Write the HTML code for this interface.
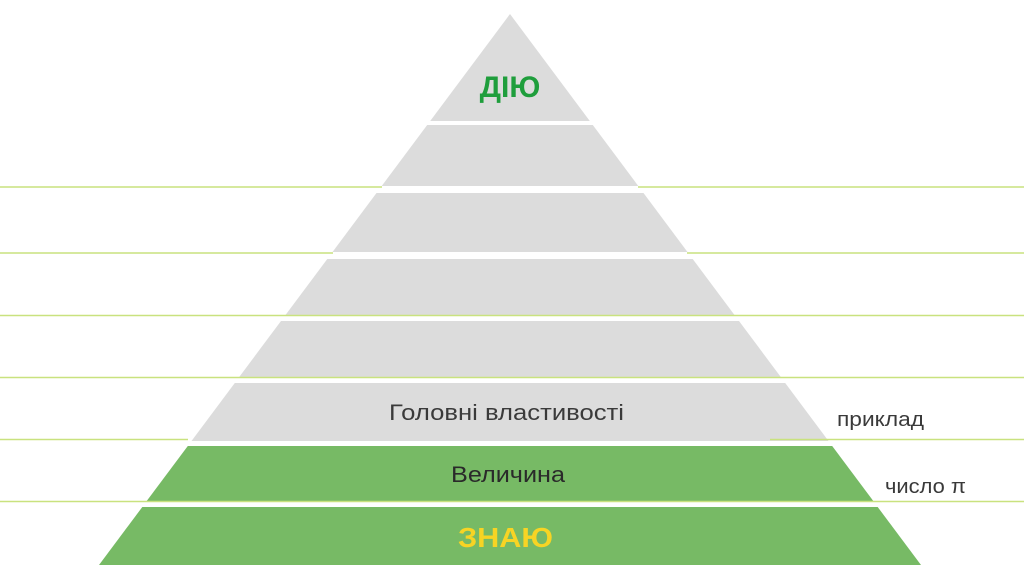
<!DOCTYPE html>
<html><head><meta charset="utf-8"><style>html,body{margin:0;padding:0;background:#fff;width:1024px;height:576px;overflow:hidden}</style></head>
<body>
<svg width="1024" height="576" viewBox="0 0 1024 576" xmlns="http://www.w3.org/2000/svg" font-family="Liberation Sans, sans-serif">
<g fill="#dcdcdc">
<polygon points="510,14 589.8,121 430.2,121"/>
<polygon points="427.2,125 592.8,125 638.3,186 381.7,186"/>
<polygon points="376.5,193 643.5,193 687.5,252 332.5,252"/>
<polygon points="327.3,259 692.7,259 734.5,315 285.5,315"/>
<polygon points="281,321 739,321 780.8,377 239.2,377"/>
<polygon points="234.8,383 785.2,383 828.5,441 191.5,441"/>
</g>
<g fill="#77ba65">
<polygon points="187.8,446 832.2,446 873.3,501 146.7,501"/>
<polygon points="142.3,507 877.7,507 921,565 99,565"/>
</g>
<g stroke="#c9e27f" stroke-width="1.5">
<line x1="0" y1="187" x2="382" y2="187"/><line x1="638" y1="187" x2="1024" y2="187"/>
<line x1="0" y1="253" x2="333" y2="253"/><line x1="687" y1="253" x2="1024" y2="253"/>
<line x1="0" y1="315.5" x2="1024" y2="315.5"/>
<line x1="0" y1="377.5" x2="1024" y2="377.5"/>
<line x1="0" y1="439.5" x2="188" y2="439.5"/><line x1="770" y1="439.5" x2="1024" y2="439.5"/>
<line x1="0" y1="501.5" x2="1024" y2="501.5"/>
</g>
<text x="510" y="97" text-anchor="middle" font-size="30" font-weight="bold" fill="#1f9e3c">ДІЮ</text>
<text x="389" y="420" font-size="22" fill="#3a3a3a" textLength="235" lengthAdjust="spacingAndGlyphs">Головні властивості</text>
<text x="451" y="482" font-size="22" fill="#2a2a2a" textLength="114" lengthAdjust="spacingAndGlyphs">Величина</text>
<text x="458" y="547" font-size="28" font-weight="bold" fill="#f7d424" textLength="95" lengthAdjust="spacingAndGlyphs">ЗНАЮ</text>
<text x="837" y="426" font-size="20" fill="#3a3a3a" textLength="87" lengthAdjust="spacingAndGlyphs">приклад</text>
<text x="885" y="493" font-size="20" fill="#3a3a3a" textLength="81" lengthAdjust="spacingAndGlyphs">число π</text>
</svg>
</body></html>
